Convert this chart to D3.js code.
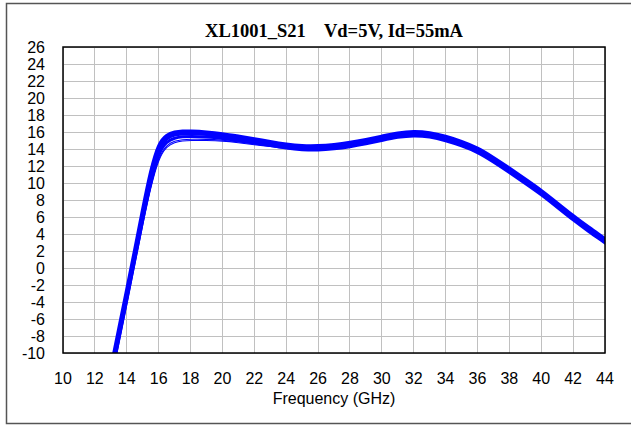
<!DOCTYPE html>
<html>
<head>
<meta charset="utf-8">
<script src="https://cdn.jsdelivr.net/npm/d3@7"></script>
<style>
  body { margin: 0; background: #fff; }
  .tick-label { font-family: "Liberation Sans", Arial, sans-serif; font-size: 16px; fill: #000; }
  .axis-title { font-family: "Liberation Sans", Arial, sans-serif; font-size: 16px; fill: #000; }
  .chart-title { font-family: "Liberation Serif", "Times New Roman", serif; font-size: 18.5px; font-weight: bold; fill: #000; white-space: pre; }
  .grid line { stroke: #c0c0c0; stroke-width: 1; shape-rendering: crispEdges; }
  .trace { fill: none; stroke: #0000ff; stroke-linejoin: round; stroke-linecap: round; }
</style>
</head>
<body>
<div id="chart"></div>
<script>
///////////////////////////////////////////////////////////////////////////
//////////////////////////////// Data /////////////////////////////////////
///////////////////////////////////////////////////////////////////////////

var freq = [12.8, 13.0, 13.5, 14.0, 14.5, 15.0, 15.5, 16.0, 16.5, 17.0, 17.5, 18, 19, 20, 21, 22, 23, 24, 25, 26,
            27, 28, 29, 30, 31, 32, 33, 34, 35, 36, 37, 38, 39, 40, 41, 42, 43, 44, 44.5];

var s21Upper = [-13.6, -11.8, -7.2, -2.6, 2.1, 6.9, 11.5, 14.7, 15.7, 16.0, 16.1, 16.1, 16.0, 15.8, 15.5, 15.2, 14.85, 14.55, 14.35, 14.35,
                14.5, 14.75, 15.1, 15.5, 15.9, 16.1, 15.95, 15.5, 14.9, 14.15, 13.0, 11.75, 10.45, 9.15, 7.65, 6.15, 4.75, 3.45, 2.75];
var s21Mid   = [-14.2, -12.4, -7.8, -3.2, 1.5, 6.3, 10.8, 14.2, 15.3, 15.7, 15.8, 15.85, 15.75, 15.5, 15.25, 14.95, 14.6, 14.3, 14.1, 14.1,
                14.25, 14.5, 14.85, 15.25, 15.65, 15.85, 15.7, 15.25, 14.65, 13.9, 12.75, 11.5, 10.2, 8.9, 7.4, 5.9, 4.5, 3.2, 2.5];
var s21Low   = [-14.8, -13.0, -8.4, -3.8, 0.9, 5.7, 10.1, 13.6, 14.9, 15.3, 15.45, 15.5, 15.45, 15.25, 15.0, 14.7, 14.4, 14.1, 13.9, 13.85,
                14.0, 14.25, 14.6, 15.0, 15.4, 15.6, 15.45, 15.0, 14.4, 13.65, 12.5, 11.25, 9.95, 8.65, 7.15, 5.65, 4.25, 2.95, 2.25];
var s21Thin1 = [-15.1, -13.3, -8.7, -4.1, 0.6, 5.3, 9.7, 13.1, 14.5, 14.95, 15.1, 15.15, 15.15, 15.05, 14.85, 14.6, 14.35, 14.1, 13.95, 13.95,
                14.1, 14.35, 14.7, 15.1, 15.5, 15.7, 15.55, 15.1, 14.5, 13.75, 12.6, 11.35, 10.05, 8.75, 7.25, 5.75, 4.35, 3.05, 2.35];
var s21Thin2 = [-15.3, -13.5, -8.9, -4.3, 0.4, 5.1, 9.5, 12.9, 14.3, 14.8, 14.95, 15.0, 15.0, 14.95, 14.75, 14.5, 14.3, 14.05, 13.9, 13.9,
                14.05, 14.3, 14.65, 15.05, 15.45, 15.65, 15.5, 15.05, 14.45, 13.7, 12.55, 11.3, 10.0, 8.7, 7.2, 5.7, 4.3, 3.0, 2.3];

var xTicks = [10, 12, 14, 16, 18, 20, 22, 24, 26, 28, 30, 32, 34, 36, 38, 40, 42, 44];
var yTicks = [-10, -8, -6, -4, -2, 0, 2, 4, 6, 8, 10, 12, 14, 16, 18, 20, 22, 24, 26];

var traces = [
  {values: s21Thin2, width: 1.1},
  {values: s21Thin1, width: 1.1},
  {values: s21Low, width: 3},
  {values: s21Mid, width: 3.4},
  {values: s21Upper, width: 3.4}
];

///////////////////////////////////////////////////////////////////////////
/////////////////////////////// Layout ////////////////////////////////////
///////////////////////////////////////////////////////////////////////////

var totalWidth = 631;
var totalHeight = 425;
var margin = {top: 47, right: 26, bottom: 72, left: 63};
var width = totalWidth - margin.left - margin.right;
var height = totalHeight - margin.top - margin.bottom;

var svg = d3.select("#chart")
  .append("svg")
  .attr("width", totalWidth)
  .attr("height", totalHeight);

//Outer frame
svg.append("rect")
  .attr("x", 6.5)
  .attr("y", 3.5)
  .attr("width", totalWidth)
  .attr("height", 420)
  .style("fill", "none")
  .style("stroke", "#555")
  .style("stroke-width", 1.5);

var g = svg.append("g")
  .attr("transform", "translate(" + margin.left + "," + margin.top + ")");

var x = d3.scaleLinear().domain([10, 44]).range([0, width]);
var y = d3.scaleLinear().domain([-10, 26]).range([height, 0]);

///////////////////////////////////////////////////////////////////////////
//////////////////////////////// Grid /////////////////////////////////////
///////////////////////////////////////////////////////////////////////////

var grid = g.append("g").attr("class", "grid");

grid.selectAll(".v-line")
  .data(xTicks)
  .enter().append("line")
  .attr("class", "v-line")
  .attr("x1", function(d) { return x(d); })
  .attr("x2", function(d) { return x(d); })
  .attr("y1", 0)
  .attr("y2", height);

grid.selectAll(".h-line")
  .data(yTicks)
  .enter().append("line")
  .attr("class", "h-line")
  .attr("x1", 0)
  .attr("x2", width)
  .attr("y1", function(d) { return y(d); })
  .attr("y2", function(d) { return y(d); });

///////////////////////////////////////////////////////////////////////////
/////////////////////////////// Traces ////////////////////////////////////
///////////////////////////////////////////////////////////////////////////

g.append("clipPath")
  .attr("id", "plot-clip")
  .append("rect")
  .attr("width", width)
  .attr("height", height);

var line = d3.line()
  .x(function(d, i) { return x(freq[i]); })
  .y(function(d) { return y(d); })
  .curve(d3.curveBasis);

g.append("g")
  .attr("clip-path", "url(#plot-clip)")
  .selectAll(".trace")
  .data(traces)
  .enter().append("path")
  .attr("class", "trace")
  .attr("d", function(d) { return line(d.values); })
  .style("stroke-width", function(d) { return d.width; });

//Plot area border
g.append("rect")
  .attr("width", width)
  .attr("height", height)
  .style("fill", "none")
  .style("stroke", "#000")
  .style("stroke-width", 1.5);

///////////////////////////////////////////////////////////////////////////
/////////////////////////////// Labels ////////////////////////////////////
///////////////////////////////////////////////////////////////////////////

g.selectAll(".y-label")
  .data(yTicks)
  .enter().append("text")
  .attr("class", "tick-label y-label")
  .attr("x", -18)
  .attr("y", function(d) { return y(d); })
  .attr("dy", "0.38em")
  .style("text-anchor", "end")
  .text(function(d) { return d; });

g.selectAll(".x-label")
  .data(xTicks)
  .enter().append("text")
  .attr("class", "tick-label x-label")
  .attr("x", function(d) { return x(d); })
  .attr("y", height + 31)
  .style("text-anchor", "middle")
  .text(function(d) { return d; });

g.append("text")
  .attr("class", "axis-title")
  .attr("x", width / 2)
  .attr("y", height + 51)
  .style("text-anchor", "middle")
  .text("Frequency (GHz)");

g.append("text")
  .attr("class", "chart-title")
  .attr("x", width / 2)
  .attr("y", -10)
  .style("text-anchor", "middle")
  .text("XL1001_S21    Vd=5V, Id=55mA");
</script>
</body>
</html>
